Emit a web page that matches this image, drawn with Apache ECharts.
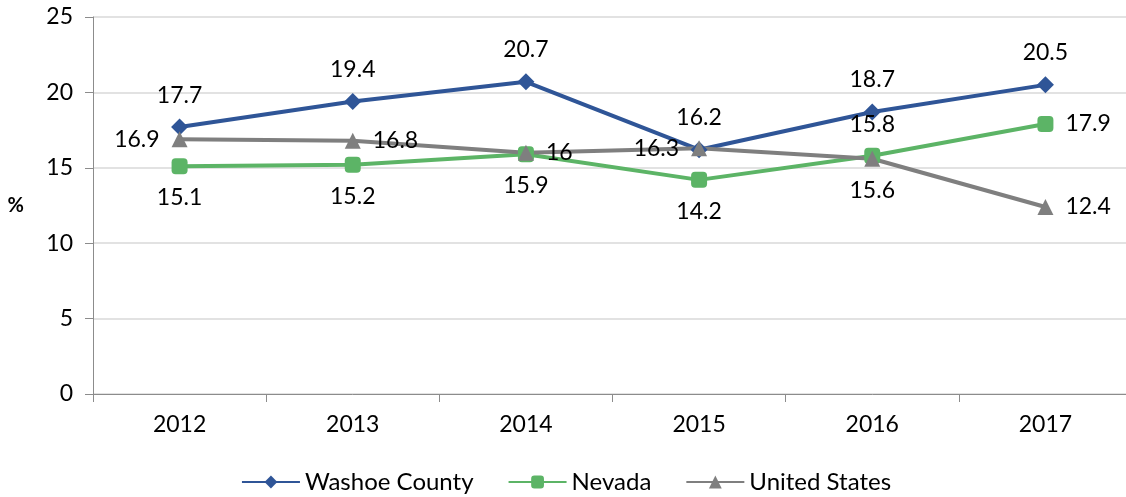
<!DOCTYPE html>
<html>
<head>
<meta charset="utf-8">
<script src="https://cdn.jsdelivr.net/npm/echarts@6/dist/echarts.min.js"></script>
<style>
  html, body { margin: 0; padding: 0; background: #fff; overflow: hidden; }
  /* plot area runs a few pixels past the right edge, like the original */
  #chart { width: 1132px; height: 497px; }
</style>
</head>
<body>
<div id="chart"></div>
<script>
const years = ['2012', '2013', '2014', '2015', '2016', '2017'];
const washoe = [17.7, 19.4, 20.7, 16.2, 18.7, 20.5];
const nevada = [15.1, 15.2, 15.9, 14.2, 15.8, 17.9];
const usa = [16.9, 16.8, 16, 16.3, 15.6, 12.4];

// label placement per point, as in the original
const washoePos = ['top', 'top', 'top', 'top', 'top', 'top'];
const nevadaPos = ['bottom', 'bottom', 'bottom', 'bottom', 'top', 'right'];
const usaPos = ['left', 'right', 'right', 'left', 'bottom', 'right'];

const font = 'Lato, "Open Sans", sans-serif';

function points(values, pos) {
  return values.map((v, i) => ({
    value: v,
    label: { position: pos[i], distance: 12 }
  }));
}

function makeSeries(name, values, pos, color, symbol, size) {
  return {
    name: name,
    type: 'line',
    data: points(values, pos),
    symbol: symbol,
    symbolSize: size,
    lineStyle: { width: 4, color: color },
    itemStyle: { color: color },
    label: {
      show: true,
      color: '#000',
      fontSize: 23,
      fontFamily: font
    }
  };
}

const chart = echarts.init(document.getElementById('chart'));
chart.setOption({
  animation: false,
  grid: { left: 93, top: 17, right: 0, height: 377 },
  legend: {
    bottom: -2,
    left: 'center',
    itemWidth: 58,
    itemHeight: 16,
    itemGap: 34,
    textStyle: { fontSize: 24, fontFamily: font, color: '#000' }
  },
  xAxis: {
    type: 'category',
    data: years,
    axisLine: { lineStyle: { color: '#8c8c8c', width: 1 } },
    axisTick: { show: true, length: 8, lineStyle: { color: '#8c8c8c' } },
    axisLabel: { fontSize: 23, fontFamily: font, color: '#000', margin: 19 }
  },
  yAxis: {
    type: 'value',
    min: 0,
    max: 25,
    interval: 5,
    name: '%',
    nameLocation: 'middle',
    nameRotate: 0,
    nameGap: 69,
    nameTextStyle: { fontSize: 20, fontWeight: 'bold', fontFamily: font, color: '#000' },
    axisLine: { show: true, lineStyle: { color: '#8c8c8c', width: 1 } },
    axisTick: { show: true, length: 8, lineStyle: { color: '#8c8c8c' } },
    axisLabel: { fontSize: 23, fontFamily: font, color: '#000', margin: 20 },
    splitLine: { lineStyle: { color: '#d9d9d9', width: 1.5 } }
  },
  series: [
    makeSeries('Washoe County', washoe, washoePos, '#2f5597', 'diamond', 17),
    makeSeries('Nevada', nevada, nevadaPos, '#5cb466', 'roundRect', 16),
    makeSeries('United States', usa, usaPos, '#7f7f7f', 'triangle', 16)
  ]
});
</script>
</body>
</html>
